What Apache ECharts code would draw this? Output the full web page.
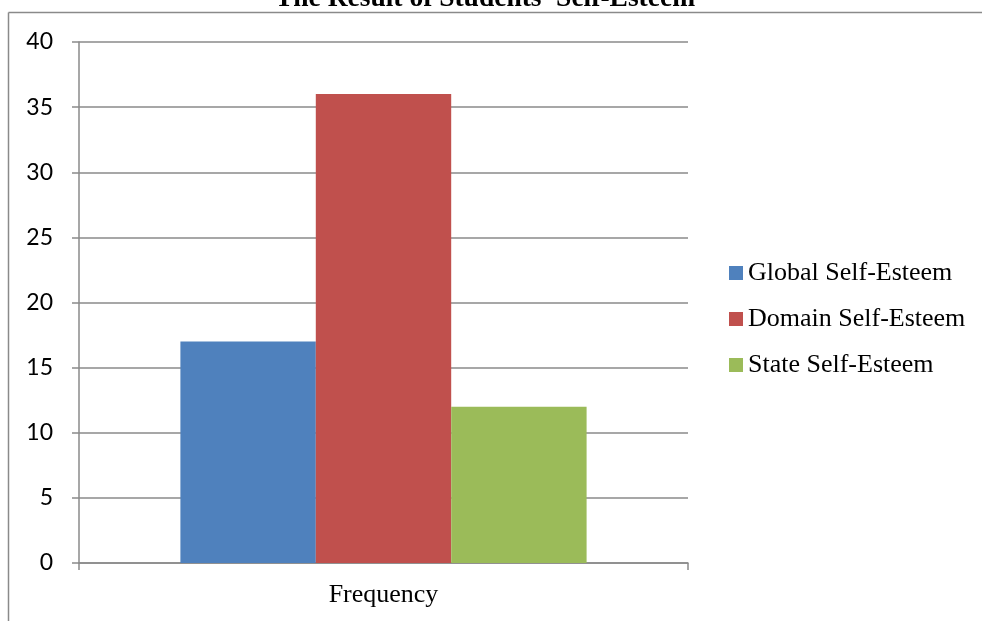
<!DOCTYPE html>
<html><head><meta charset="utf-8">
<script src="https://cdn.jsdelivr.net/npm/echarts@6/dist/echarts.min.js"></script>
<style>html,body{margin:0;padding:0;background:#fff}#c{width:982px;height:621px}</style>
</head><body><div id="c"></div>
<script>
var titleText = "The Result of Students' Self-Esteem";
var categories = ['Frequency'];
var seriesNames = ['Global Self-Esteem', 'Domain Self-Esteem', 'State Self-Esteem'];
var globalValues = [17];
var domainValues = [36];
var stateValues = [12];
var colors = ['#4F81BD', '#C0504D', '#9BBB59'];

var chart = echarts.init(document.getElementById('c'), null, {renderer: 'canvas'});
var dataSets = [globalValues, domainValues, stateValues];
chart.setOption({
  animation: false,
  backgroundColor: '#fff',
  grid: {left: 79, right: 294, top: 42, bottom: 58, containLabel: false},
  graphic: [
    {type: 'line', shape: {x1: 8.5, y1: 12.5, x2: 982, y2: 12.5}, style: {stroke: '#8a8a8a', lineWidth: 1.5}, z: 10},
    {type: 'line', shape: {x1: 8.5, y1: 12.5, x2: 8.5, y2: 621}, style: {stroke: '#8a8a8a', lineWidth: 1.5}, z: 10},
    {type: 'text', style: {text: titleText, x: 485, y: -15, textAlign: 'center', textVerticalAlign: 'top', fontFamily: 'Liberation Serif', fontWeight: 'bold', fontSize: 27.5, fill: '#000'}}
  ],
  legend: {
    orient: 'vertical', left: 729, top: 260, padding: 0, itemWidth: 14, itemHeight: 14, itemGap: 20,
    icon: 'rect',
    textStyle: {fontFamily: 'Liberation Serif', fontSize: 26, color: '#000'},
    data: seriesNames
  },
  xAxis: {
    type: 'category', data: categories,
    axisLine: {lineStyle: {color: '#8a8a8a', width: 1.5}},
    axisTick: {show: true, length: 7, lineStyle: {color: '#8a8a8a', width: 1.5}},
    axisLabel: {fontFamily: 'Liberation Serif', fontSize: 26, color: '#000', margin: 19}
  },
  yAxis: {
    type: 'value', min: 0, max: 40, interval: 5,
    axisLine: {show: true, lineStyle: {color: '#8a8a8a', width: 1.5}},
    axisTick: {show: true, length: 7, lineStyle: {color: '#8a8a8a', width: 1.5}},
    axisLabel: {fontFamily: 'Lato', fontSize: 23, color: '#000', margin: 26},
    splitLine: {lineStyle: {color: '#8a8a8a', width: 1.5}}
  },
  series: seriesNames.map(function (n, i) {
    return {name: n, type: 'bar', data: dataSets[i], barGap: '0%', barCategoryGap: '33.3%',
      itemStyle: {color: colors[i]}};
  })
});
</script></body></html>
